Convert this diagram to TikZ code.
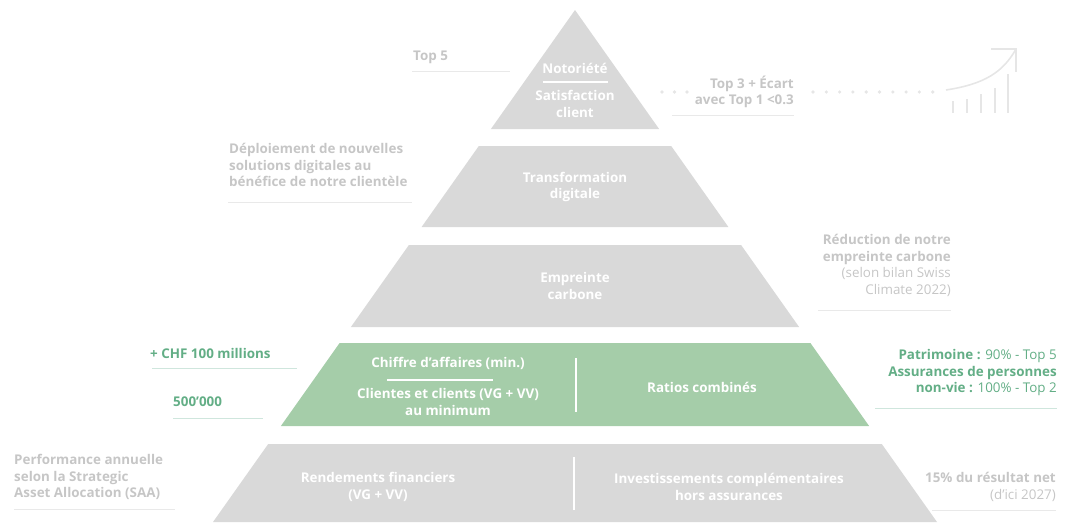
\documentclass[tikz,border=0pt]{standalone}
\usepackage{fontspec}
\setmainfont{Open Sans}
\definecolor{pgray}{HTML}{D9D9D9}
\definecolor{pgreen}{HTML}{A5CDA9}
\definecolor{labgray}{HTML}{C6C6C6}
\definecolor{linegray}{HTML}{E9E9E9}
\definecolor{labgreen}{HTML}{63AE86}
\definecolor{linegreen}{HTML}{CFE6DD}
\definecolor{deco}{HTML}{E6E6E6}
\newcommand{\fsz}{\fontsize{13.4}{16.5}\selectfont}
\tikzset{
  ptext/.style={text=white, font=\fsz\bfseries, align=center, inner sep=0pt},
  lab/.style={text=labgray, font=\fsz, inner sep=0pt},
  labb/.style={text=labgray, font=\fsz\bfseries, inner sep=0pt},
  labg/.style={text=labgreen, font=\fsz, inner sep=0pt},
  labgb/.style={text=labgreen, font=\fsz\bfseries, inner sep=0pt},
  uline/.style={draw=linegray, line width=1pt},
  glines/.style={draw=linegreen, line width=1pt},
  wline/.style={draw=white, line width=1.3pt},
  decoline/.style={draw=deco, line width=1.6pt},
  dotc/.style={fill=deco}
}
\begin{document}
\begin{tikzpicture}[x=1pt,y=-1pt]
\useasboundingbox (0,0) rectangle (1092,522);
% pyramid levels
\fill[pgray] (575,10) -- (659.1,129) -- (490.9,129) -- cycle;
\fill[pgray] (478.8,146) -- (671.2,146) -- (728.4,227) -- (421.6,227) -- cycle;
\fill[pgray] (408.9,245) -- (741.1,245) -- (799.1,327) -- (350.9,327) -- cycle;
\fill[pgreen] (339.6,343) -- (810.4,343) -- (869.1,426) -- (280.9,426) -- cycle;
\fill[pgray] (268.2,444) -- (881.8,444) -- (937,522) -- (213,522) -- cycle;

% level 1
\node[ptext] (notor) at (575,68) {Notoriété};
\coordinate (n1a) at (543,82); \coordinate (n1b) at (608,82);
\draw[wline] (n1a) -- (n1b);
\node[ptext] (satis) at (575,104) {Satisfaction\\client};
\node[labb, anchor=west] (top5) at (413,57) {Top 5};
\coordinate (t5a) at (412,71); \coordinate (t5b) at (510,71);
\draw[uline] (t5a) -- (t5b);
\node[labb, anchor=east, align=right] (top3) at (794,92) {Top 3 + Écart\\avec Top 1 <0.3};
\coordinate (t3a) at (672,115); \coordinate (t3b) at (794,115);
\draw[uline] (t3a) -- (t3b);
\foreach \x in {662,674.5,687} {\fill[dotc] (\x,92) circle (1.8);}
\foreach \x in {813,826.3,839.6,852.9,866.2,879.5,892.8,906.1,919.4,932.7} {\fill[dotc] (\x,92) circle (1.8);}
% growth arrow and bars
\coordinate (ar0) at (946,90);
\coordinate (ar1) at (1016,49);
\coordinate (ar2) at (991,49);
\coordinate (ar3) at (1016,72);
\draw[decoline] (ar0) .. controls (985,84) and (1003,72) .. (ar1);
\draw[decoline] (ar2) -- (ar1) -- (ar3);
\foreach \x/\t in {953/101,967/99,981/94,995/88,1008/74} {\draw[decoline] (\x,\t) -- (\x,113);}

% level 2
\node[ptext] (transf) at (575,187) {Transformation\\digitale};
\node[labb, anchor=west, align=left] (deploi) at (229,165) {Déploiement de nouvelles\\solutions digitales au\\bénéfice de notre clientèle};
\coordinate (d2a) at (228,202); \coordinate (d2b) at (412,202);
\draw[uline] (d2a) -- (d2b);

% level 3
\node[ptext] (empr) at (575,286) {Empreinte\\carbone};
\node[lab, anchor=east, align=right] (reduc) at (951,265.5) {{\bfseries Réduction de notre}\\{\bfseries empreinte carbone}\\(selon bilan Swiss\\Climate 2022)};
\coordinate (r3a) at (818,310); \coordinate (r3b) at (951,310);
\draw[uline] (r3a) -- (r3b);

% level 4
\node[ptext] (chiffre) at (448,363.5) {Chiffre d’affaires (min.)};
\coordinate (c4a) at (387,380); \coordinate (c4b) at (493,380);
\draw[wline] (c4a) -- (c4b);
\node[ptext] (clientes) at (448,402) {Clientes et clients (VG + VV)\\au minimum};
\coordinate (v4a) at (576,358); \coordinate (v4b) at (576,412);
\draw[wline] (v4a) -- (v4b);
\node[ptext] (ratios) at (702,387) {Ratios combinés};
\node[labgb, anchor=west] (chf) at (150,353) {+ CHF 100 millions};
\coordinate (g1a) at (152,368); \coordinate (g1b) at (297,368);
\draw[glines] (g1a) -- (g1b);
\node[labgb, anchor=west] (k500) at (173,402) {500’000};
\coordinate (g2a) at (173,418); \coordinate (g2b) at (263,418);
\draw[glines] (g2a) -- (g2b);
\node[labg, anchor=east, align=right] (patri) at (1057,373) {{\bfseries Patrimoine :} 90\% - Top 5\\{\bfseries Assurances de personnes}\\{\bfseries non-vie :} 100\% - Top 2};
\coordinate (g3a) at (875,408); \coordinate (g3b) at (1057,408);
\draw[glines] (g3a) -- (g3b);

% level 5
\node[ptext] (rend) at (378,487) {Rendements financiers\\(VG + VV)};
\coordinate (v5a) at (574,457); \coordinate (v5b) at (574,510);
\draw[wline] (v5a) -- (v5b);
\node[ptext] (inv) at (729,487) {Investissements complémentaires\\hors assurances};
\node[labb, anchor=west, align=left] (perf) at (14,477) {Performance annuelle\\selon la Strategic\\Asset Allocation (SAA)};
\coordinate (p5a) at (14,509); \coordinate (p5b) at (175,509);
\draw[uline] (p5a) -- (p5b);
\node[lab, anchor=east, align=right] (net) at (1056,487) {{\bfseries 15\% du résultat net}\\(d’ici 2027)};
\coordinate (n5a) at (932,510); \coordinate (n5b) at (1056,510);
\draw[uline] (n5a) -- (n5b);
\end{tikzpicture}
\end{document}
